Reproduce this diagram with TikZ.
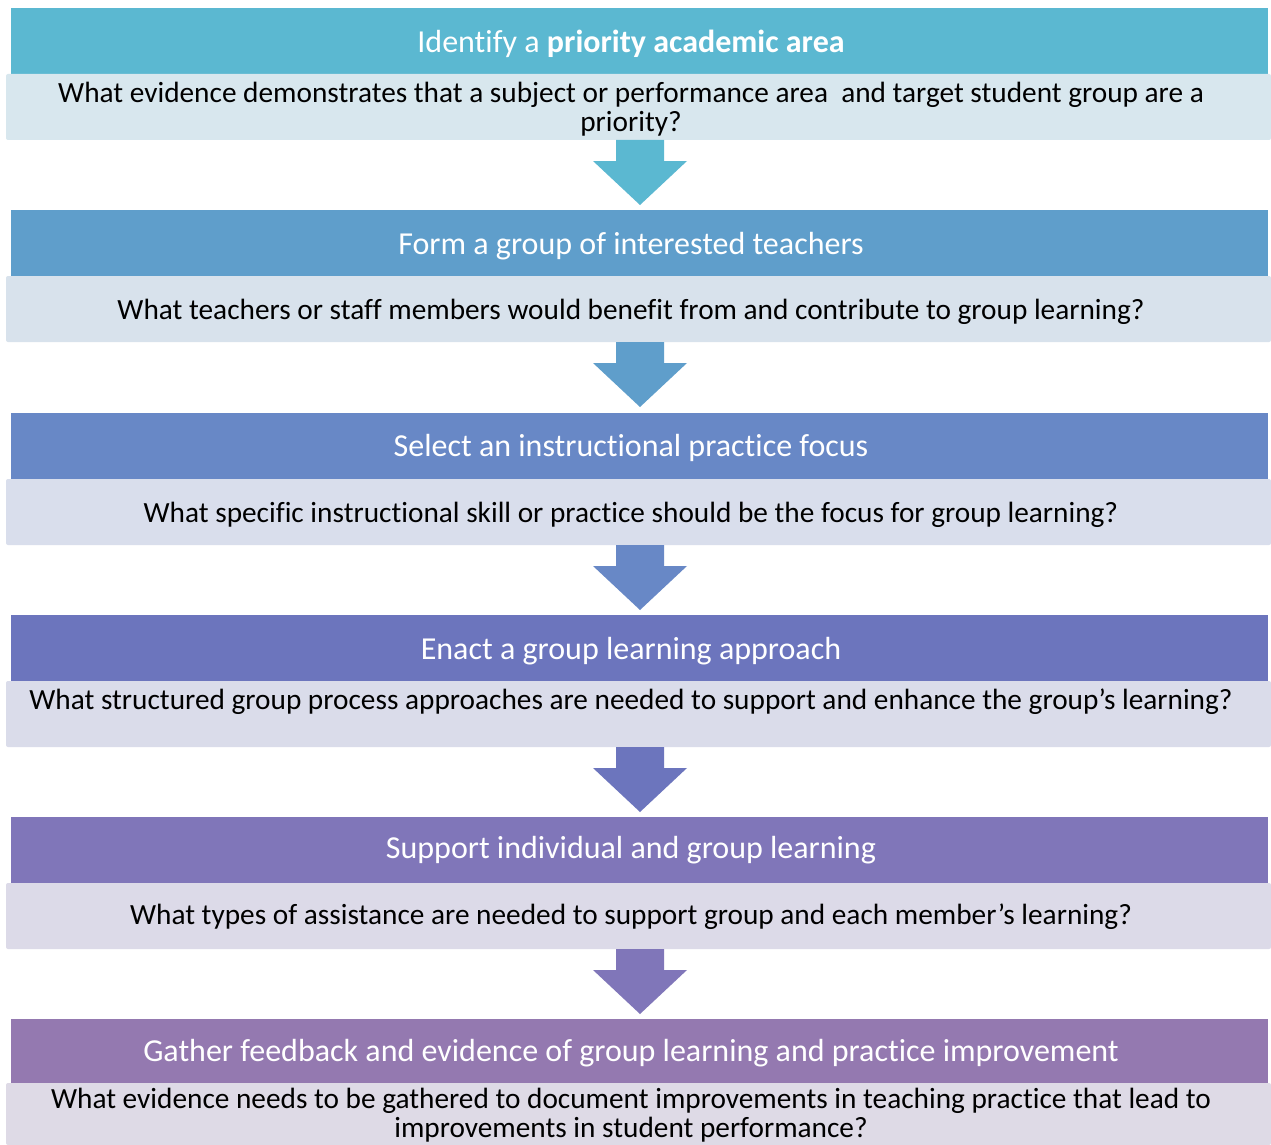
\documentclass[tikz,border=0pt]{standalone}
\usepackage{fontspec}
\setmainfont{Carlito}[RawFeature=-liga]
\definecolor{hA}{HTML}{5BB8D1}\definecolor{bA}{HTML}{D8E7EE}
\definecolor{hB}{HTML}{5F9ECB}\definecolor{bB}{HTML}{D8E2EC}
\definecolor{hC}{HTML}{6888C6}\definecolor{bC}{HTML}{D9DEEC}
\definecolor{hD}{HTML}{6C75BD}\definecolor{bD}{HTML}{DADCEA}
\definecolor{hE}{HTML}{8076B9}\definecolor{bE}{HTML}{DCDAE8}
\definecolor{hF}{HTML}{9479B0}\definecolor{bF}{HTML}{DEDAE6}
\tikzset{
  hdrbox/.style={rectangle, minimum width=1257pt, minimum height=66pt, inner sep=0pt, draw=none},
  bodybox/.style={rectangle, rounded corners=2pt, minimum width=1265pt, minimum height=66pt, inner sep=0pt, draw=none},
  hdrtext/.style={text=white, font=\fontsize{32}{36}\selectfont, inner sep=0pt},
  bodytext/.style={text=black, font=\fontsize{29.3}{29}\selectfont, inner sep=0pt, align=center},
}
\newcommand{\blockarrow}[3]{% color, top y, name
  \fill[#1] (616,#2) -- (664,#2) -- (664,#2+21) -- (687,#2+21) -- (640,#2+65) -- (593,#2+21) -- (616,#2+21) -- cycle;
  \coordinate (#3) at (640,#2+65);
}
\begin{document}
\begin{tikzpicture}[x=1pt,y=-1pt]
\useasboundingbox[fill=white] (0,0) rectangle (1271,1145);
% boxes
\node[hdrbox, fill=hA] (h1) at (639.5,41) {};
\node[bodybox, fill=bA] (b1) at (638.5,107) {};
\node[hdrbox, fill=hB] (h2) at (639.5,243) {};
\node[bodybox, fill=bB] (b2) at (638.5,309) {};
\node[hdrbox, fill=hC] (h3) at (639.5,446) {};
\node[bodybox, fill=bC] (b3) at (638.5,512) {};
\node[hdrbox, fill=hD] (h4) at (639.5,648) {};
\node[bodybox, fill=bD] (b4) at (638.5,714) {};
\node[hdrbox, fill=hE] (h5) at (639.5,850) {};
\node[bodybox, fill=bE] (b5) at (638.5,916) {};
\node[hdrbox, fill=hF] (h6) at (639.5,1051.5) {};
\node[bodybox, fill=bF, minimum height=62pt] (b6) at (638.5,1114) {};
% arrows
\blockarrow{hA}{140}{t1}
\blockarrow{hB}{342}{t2}
\blockarrow{hC}{545}{t3}
\blockarrow{hD}{747}{t4}
\blockarrow{hE}{949}{t5}
% texts
\node[hdrtext] (h1t) at (631,44) {Identify a \textbf{priority academic area}};
\node[bodytext] (b1t) at (631,109.5) {What evidence demonstrates that a subject or performance area\ \ and target student group are a\\priority?};
\node[hdrtext] (h2t) at (631,246) {Form a group of interested teachers};
\node[bodytext] (b2t) at (631,312) {What teachers or staff members would benefit from and contribute to group learning?};
\node[hdrtext] (h3t) at (631,448) {Select an instructional practice focus};
\node[bodytext] (b3t) at (631,515) {What specific instructional skill or practice should be the focus for group learning?};
\node[hdrtext] (h4t) at (631,651) {Enact a group learning approach};
\node[bodytext] (b4t) at (631,702) {What structured group process approaches are needed to support and enhance the group’s learning?};
\node[hdrtext] (h5t) at (631,850) {Support individual and group learning};
\node[bodytext] (b5t) at (631,917) {What types of assistance are needed to support group and each member’s learning?};
\node[hdrtext] (h6t) at (631,1053) {Gather feedback and evidence of group learning and practice improvement};
\node[bodytext] (b6t) at (631,1115.5) {What evidence needs to be gathered to document improvements in teaching practice that lead to\\improvements in student performance?};
\end{tikzpicture}
\end{document}
